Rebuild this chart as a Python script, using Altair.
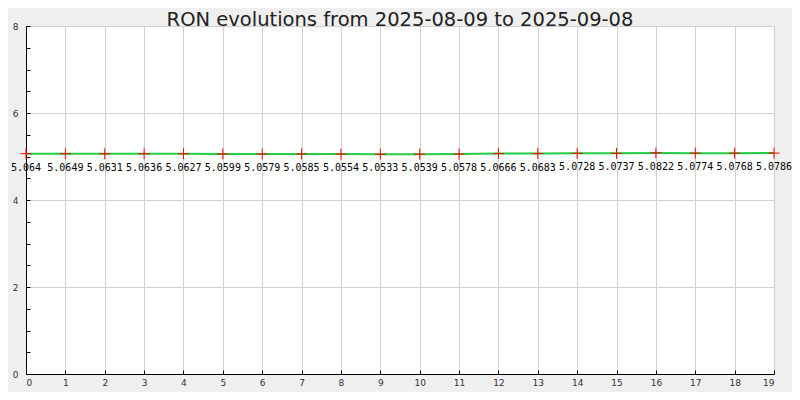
import altair as alt
import pandas as pd

days = list(range(20))
rates = [5.064, 5.0649, 5.0631, 5.0636, 5.0627, 5.0599, 5.0579, 5.0585, 5.0554, 5.0533,
         5.0539, 5.0578, 5.0666, 5.0683, 5.0728, 5.0737, 5.0822, 5.0774, 5.0768, 5.0786]
labels = ["5.064", "5.0649", "5.0631", "5.0636", "5.0627", "5.0599", "5.0579", "5.0585",
          "5.0554", "5.0533", "5.0539", "5.0578", "5.0666", "5.0683", "5.0728", "5.0737",
          "5.0822", "5.0774", "5.0768", "5.0786"]
title = "RON evolutions from 2025-08-09 to 2025-09-08"

df = pd.DataFrame({"day": days, "rate": rates, "label": labels})

xs = alt.Scale(domain=[0, 19], nice=False, zero=False)
ys = alt.Scale(domain=[0, 8], nice=False)

axis_font = dict(labelFont="DejaVu Sans", labelFontSize=9, labelColor="#333")

x_main = alt.Axis(values=days, grid=True, gridColor="#d0d0d0", tickSize=0, domainColor="#000",
                  labelPadding=4, title=None, **axis_font)
y_main = alt.Axis(values=[0, 2, 4, 6, 8], grid=True, gridColor="#d0d0d0", tickSize=0,
                  domainColor="#000", labelPadding=8, title=None, **axis_font)

line = alt.Chart(df).mark_line(color="#22cc44", strokeWidth=2).encode(
    x=alt.X("day:Q", scale=xs, axis=x_main),
    y=alt.Y("rate:Q", scale=ys, axis=y_main),
)

pts = alt.Chart(df).mark_point(
    shape="M-1,0H1M0,-1V1", size=121, color="red", strokeWidth=1, filled=False, opacity=1
).encode(
    x=alt.X("day:Q", scale=xs, axis=None),
    y=alt.Y("rate:Q", scale=ys, axis=None),
)

txt = alt.Chart(df).mark_text(
    font="DejaVu Sans Mono", fontSize=10, color="#000", dy=14, baseline="middle"
).encode(
    x=alt.X("day:Q", scale=xs, axis=None),
    y=alt.Y("rate:Q", scale=ys, axis=None),
    text="label:N",
)

xticks = alt.Chart(df).mark_point(opacity=0).encode(
    x=alt.X("day:Q", scale=xs, axis=alt.Axis(orient="top", offset=-348, values=days, labels=False,
                                              domain=False, grid=False, tickSize=4,
                                              tickColor="#000", title=None)),
)
yticks = alt.Chart(df).mark_point(opacity=0).encode(
    y=alt.Y("rate:Q", scale=ys, axis=alt.Axis(orient="right", offset=-748,
                                               values=[i * 0.5 for i in range(17)], labels=False,
                                               domain=False, grid=False, tickSize=4,
                                               tickColor="#000", title=None)),
)

chart = alt.layer(line, pts, txt, xticks, yticks).resolve_axis(x="independent", y="independent").properties(
    width=748,
    height=348,
    background="#efefef",
    padding={"left": 18, "top": 18, "right": 18, "bottom": 18},
    autosize=alt.AutoSizeParams(type="none"),
    title=alt.TitleParams(title, font="DejaVu Sans", fontSize=19.5, fontWeight="normal",
                          color="#222", anchor="middle", offset=3, dy=11),
).configure_view(stroke=None, fill="white")

chart.save("out.html", embed_options={"renderer": "svg", "actions": False})
